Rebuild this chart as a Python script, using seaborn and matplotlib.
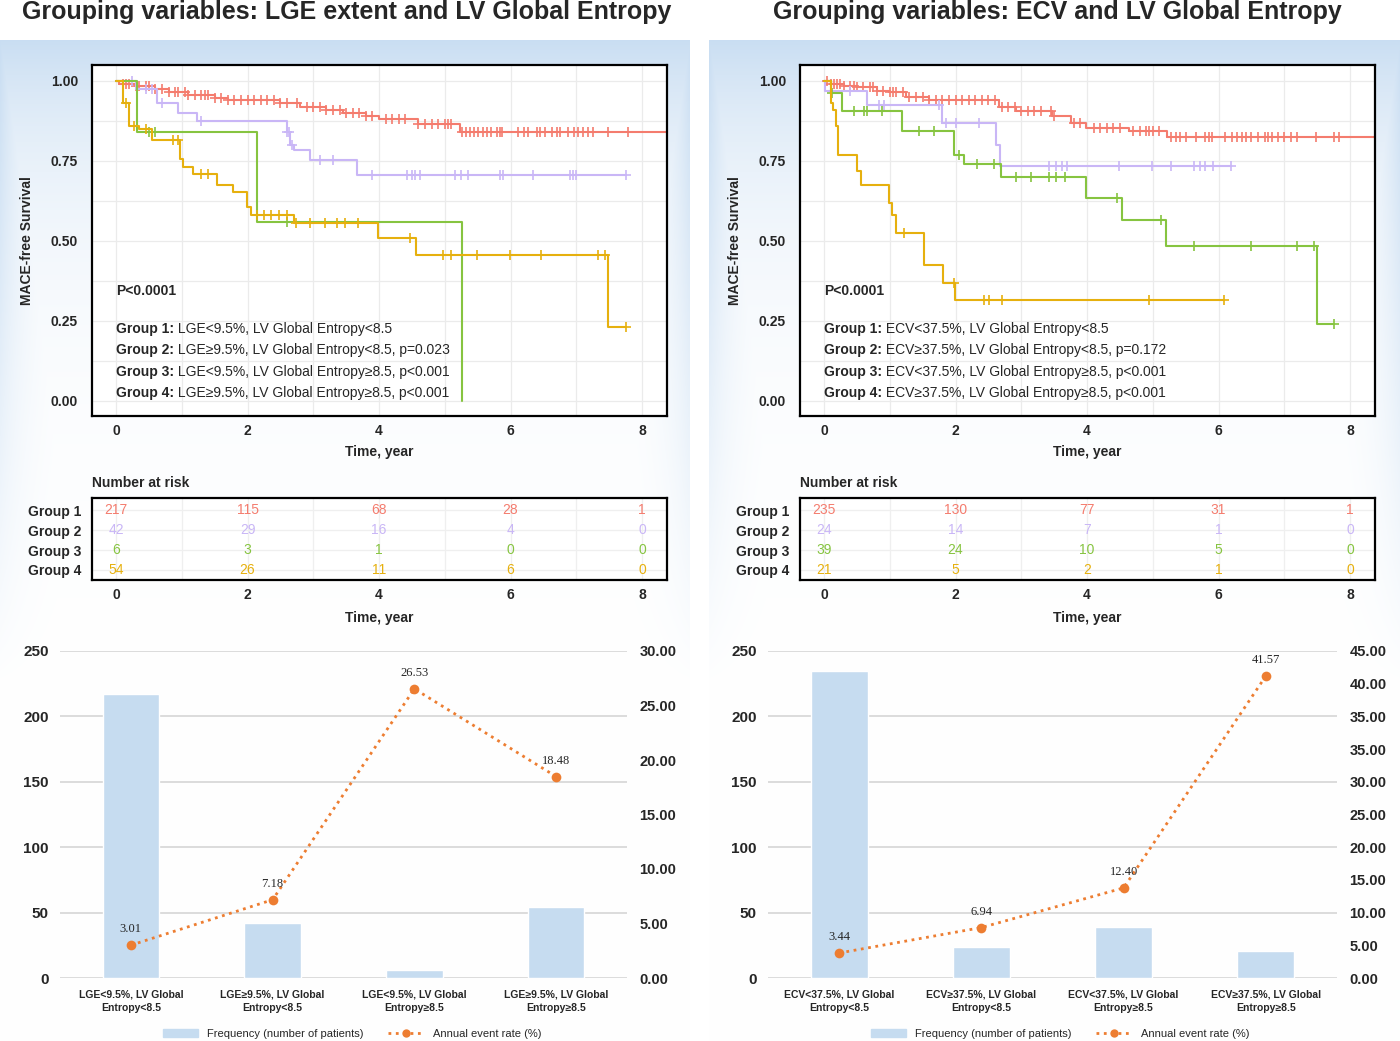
import numpy as np
import matplotlib
matplotlib.use('Agg')
import matplotlib.pyplot as plt
from matplotlib import font_manager
from matplotlib.lines import Line2D
from matplotlib.patches import Patch
import seaborn as sns

# ---------------- data ----------------
# Kaplan-Meier steps (time in years, survival)
lge_g1_t = [0, 0.05, 0.3, 0.6, 0.8, 1.1, 1.5, 1.7, 2.5, 2.8, 3.2, 3.45, 3.8, 4.0, 4.6, 5.23]
lge_g1_s = [1.0, 0.99, 0.985, 0.975, 0.966, 0.956, 0.948, 0.94, 0.93, 0.92, 0.91, 0.90, 0.89, 0.88, 0.865, 0.84]
lge_g1_cens = [0.1, 0.15, 0.2, 0.3, 0.35, 0.45, 0.5, 0.6, 0.7, 0.8, 0.9, 0.95, 1.05, 1.1, 1.2, 1.3,
               1.35, 1.4, 1.5, 1.6, 1.7, 1.8, 1.9, 2.0, 2.1, 2.2, 2.3, 2.4, 2.5, 2.6, 2.75, 2.9, 3.0,
               3.1, 3.2, 3.3, 3.4, 3.5, 3.6, 3.7, 3.8, 3.9, 4.1, 4.2, 4.3, 4.4, 4.6, 4.7, 4.8, 4.9,
               5.0, 5.05, 5.1, 5.26, 5.32, 5.38, 5.45, 5.51, 5.58, 5.64, 5.71, 5.79, 5.84, 5.87,
               6.12, 6.2, 6.27, 6.4, 6.45, 6.53, 6.63, 6.7, 6.75, 6.88, 6.96, 7.03, 7.11, 7.18,
               7.26, 7.49, 7.79]
lge_g1_end = 8.4

lge_g2_t = [0, 0.3, 0.62, 0.95, 1.23, 2.6, 2.65, 2.7, 2.95, 3.66]
lge_g2_s = [1.0, 0.975, 0.93, 0.90, 0.875, 0.84, 0.80, 0.784, 0.753, 0.705]
lge_g2_cens = [0.25, 0.45, 0.55, 0.7, 1.3, 2.6, 2.63, 2.68, 3.1, 3.3, 3.89, 4.42, 4.5, 4.55,
               4.62, 5.16, 5.24, 5.35, 5.84, 5.89, 6.34, 6.9, 6.95, 7.0, 7.75]
lge_g2_end = 7.75

lge_g3_t = [0, 0.32, 2.14, 5.26]
lge_g3_s = [1.0, 0.84, 0.56, 0.0]
lge_g3_cens = [0.5, 0.6, 2.6]
lge_g3_end = 5.26

lge_g4_t = [0, 0.1, 0.2, 0.35, 0.55, 0.97, 1.02, 1.17, 1.53, 1.78, 1.99, 2.05, 2.7, 3.99, 4.56, 7.48]
lge_g4_s = [1.0, 0.93, 0.86, 0.85, 0.815, 0.755, 0.73, 0.71, 0.675, 0.653, 0.606, 0.58, 0.555,
            0.51, 0.456, 0.23]
lge_g4_cens = [0.15, 0.28, 0.45, 0.87, 0.95, 1.3, 1.4, 2.15, 2.25, 2.35, 2.48, 2.6, 2.74, 2.95,
               3.18, 3.36, 3.48, 3.68, 4.47, 4.97, 5.1, 5.49, 5.99, 6.46, 7.33, 7.44, 7.75]
lge_g4_end = 7.75

ecv_g1_t = [0, 0.1, 0.3, 0.5, 0.8, 1.0, 1.25, 1.6, 2.66, 2.92, 3.47, 3.76, 3.98, 4.64, 5.22]
ecv_g1_s = [1.0, 0.99, 0.985, 0.98, 0.97, 0.965, 0.95, 0.94, 0.92, 0.907, 0.89, 0.869, 0.853,
            0.845, 0.826]
ecv_g1_cens = [0.05, 0.1, 0.15, 0.2, 0.25, 0.3, 0.4, 0.45, 0.5, 0.6, 0.7, 0.75, 0.8, 0.9, 1.0,
               1.05, 1.1, 1.2, 1.3, 1.4, 1.5, 1.6, 1.7, 1.8, 1.9, 2.0, 2.1, 2.2, 2.3, 2.4, 2.5,
               2.6, 2.7, 2.8, 2.9, 3.0, 3.1, 3.2, 3.3, 3.45, 3.5, 3.8, 3.9, 4.1, 4.2, 4.3, 4.4,
               4.5, 4.7, 4.8, 4.9, 4.95, 5.0, 5.1, 5.28, 5.35, 5.42, 5.5, 5.66, 5.8, 5.85, 5.9,
               6.1, 6.2, 6.28, 6.35, 6.42, 6.5, 6.6, 6.7, 6.75, 6.82, 6.9, 7.0, 7.1, 7.2, 7.48,
               7.76, 7.83]
ecv_g1_end = 8.4

ecv_g2_t = [0, 0.02, 0.65, 1.8, 2.62, 2.68]
ecv_g2_s = [1.0, 0.97, 0.925, 0.87, 0.80, 0.735]
ecv_g2_cens = [0.4, 0.84, 0.92, 1.75, 1.85, 2.0, 2.35, 3.42, 3.53, 3.62, 3.7, 4.49, 4.99, 5.27,
               5.63, 5.72, 5.8, 5.91, 6.19]
ecv_g2_end = 6.19

ecv_g3_t = [0, 0.1, 0.27, 1.19, 1.98, 2.13, 2.69, 3.98, 4.53, 5.2, 7.5]
ecv_g3_s = [1.0, 0.963, 0.905, 0.845, 0.77, 0.74, 0.70, 0.635, 0.565, 0.485, 0.24]
ecv_g3_cens = [0.12, 0.46, 0.61, 0.65, 0.88, 1.44, 1.67, 2.05, 2.33, 2.59, 2.92, 3.15, 3.42,
               3.53, 3.66, 4.45, 5.12, 5.63, 6.5, 7.19, 7.45, 7.76]
ecv_g3_end = 7.76

ecv_g4_t = [0, 0.1, 0.14, 0.18, 0.22, 0.5, 0.56, 0.99, 1.04, 1.09, 1.52, 1.81, 1.99]
ecv_g4_s = [1.0, 0.93, 0.91, 0.86, 0.77, 0.72, 0.675, 0.62, 0.58, 0.526, 0.426, 0.37, 0.317]
ecv_g4_cens = [1.22, 1.98, 2.43, 2.51, 2.71, 4.94, 6.08]
ecv_g4_end = 6.08

# number at risk at 0, 2, 4, 6, 8 years
risk_times = [0, 2, 4, 6, 8]
lge_risk = [[217, 115, 68, 28, 1], [42, 29, 16, 4, 0], [6, 3, 1, 0, 0], [54, 26, 11, 6, 0]]
ecv_risk = [[235, 130, 77, 31, 1], [24, 14, 7, 1, 0], [39, 24, 10, 5, 0], [21, 5, 2, 1, 0]]

# legend texts
lge_groups = ['LGE<9.5%, LV Global Entropy<8.5',
              'LGE\u22659.5%, LV Global Entropy<8.5, p=0.023',
              'LGE<9.5%, LV Global Entropy\u22658.5, p<0.001',
              'LGE\u22659.5%, LV Global Entropy\u22658.5, p<0.001']
ecv_groups = ['ECV<37.5%, LV Global Entropy<8.5',
              'ECV\u226537.5%, LV Global Entropy<8.5, p=0.172',
              'ECV<37.5%, LV Global Entropy\u22658.5, p<0.001',
              'ECV\u226537.5%, LV Global Entropy\u22658.5, p<0.001']

# bar / line charts
lge_cats = ['LGE<9.5%, LV Global\nEntropy<8.5', 'LGE\u22659.5%, LV Global\nEntropy<8.5',
            'LGE<9.5%, LV Global\nEntropy\u22658.5', 'LGE\u22659.5%, LV Global\nEntropy\u22658.5']
lge_freq = [217, 42, 6, 54]
lge_rate = [3.01, 7.18, 26.53, 18.48]
ecv_cats = ['ECV<37.5%, LV Global\nEntropy<8.5', 'ECV\u226537.5%, LV Global\nEntropy<8.5',
            'ECV<37.5%, LV Global\nEntropy\u22658.5', 'ECV\u226537.5%, LV Global\nEntropy\u22658.5']
ecv_freq = [235, 24, 39, 21]
ecv_rate = [3.44, 6.94, 12.40, 41.57]
lge_rate_ticks = ['0.00', '5.00', '10.00', '15.00', '20.00', '25.00', '30.00']
ecv_rate_ticks = ['0.00', '5.00', '10.00', '15.00', '20.00', '25.00', '30.00', '35.00', '35.00',
                  '40.00', '45.00']

group_colors = ['#F47C6E', '#C9B6F6', '#86C440', '#E6B00E']
bar_color = '#C6DCF0'
line_color = '#ED7D31'

# ---------------- style ----------------
sns.set_theme(style='white')
plt.rcParams['font.family'] = ['Liberation Sans', 'DejaVu Sans']
names = {f.name for f in font_manager.fontManager.ttflist}
narrow = 'Liberation Sans Narrow' if 'Liberation Sans Narrow' in names else 'Liberation Sans'
narrow_family = [narrow, 'DejaVu Sans']

W, H = 1400, 1041
fig = plt.figure(figsize=(W / 100, H / 100), dpi=100)


def px_axes(x0, y0, x1, y1, **kw):
    return fig.add_axes([x0 / W, 1 - y1 / H, (x1 - x0) / W, (y1 - y0) / H], **kw)


# background: pale blue panels fading to white
yy, xx = np.mgrid[0:H, 0:W].astype(float)
bg = np.ones((H, W, 3))
blue = np.array([0.79, 0.87, 0.95])
for x0, x1 in [(0, 690), (709, 1400)]:
    inside = (xx >= x0) & (xx < x1) & (yy >= 40)
    top = np.exp(-(yy - 40) / 140.0)
    side = np.exp(-np.minimum(xx - x0, x1 - xx) / 28.0) * np.clip(1 - (yy - 40) / 650.0, 0, 1)
    w = np.clip(np.maximum(top, side), 0, 1) * inside
    bg = bg * (1 - w[..., None]) + blue * w[..., None]
ax_bg = fig.add_axes([0, 0, 1, 1], zorder=-10)
ax_bg.imshow(bg, aspect='auto', interpolation='bilinear')
ax_bg.axis('off')

fig.text(22 / W, 1 - 12 / H, 'Grouping variables: LGE extent and LV Global Entropy',
         fontsize=18, weight='bold', va='center', ha='left')
fig.text(773 / W, 1 - 12 / H, 'Grouping variables: ECV and LV Global Entropy',
         fontsize=18, weight='bold', va='center', ha='left')


def km_panel(ax, curves, groups):
    for (t, s, cens, end), col in zip(curves, group_colors):
        tt = list(t) + [end]
        ss = list(s) + [s[-1]]
        sns.lineplot(x=tt, y=ss, drawstyle='steps-post', color=col, lw=1.5, ax=ax,
                     sort=False, estimator=None)
        c = np.array(cens)
        cs = np.array(s)[np.searchsorted(t, c, side='right') - 1]
        ax.plot(c, cs, ls='none', marker='+', ms=7, mew=1.2, color=col)
    ax.set_xlim(-0.365, 8.38)
    ax.set_ylim(-0.047, 1.05)
    ax.set_xticks([0, 2, 4, 6, 8])
    ax.set_xticks([1, 3, 5, 7], minor=True)
    ax.set_yticks([0, 0.25, 0.5, 0.75, 1.0])
    ax.set_yticks([0.125, 0.375, 0.625, 0.875], minor=True)
    ax.set_yticklabels(['0.00', '0.25', '0.50', '0.75', '1.00'])
    ax.grid(True, which='both', color='#EBEBEB', lw=0.9)
    ax.tick_params(which='major', length=4, width=1, color='#333333', labelsize=10)
    ax.tick_params(axis='y', pad=6)
    ax.tick_params(axis='x', pad=2)
    ax.tick_params(which='minor', length=0)
    for lab in ax.get_xticklabels() + ax.get_yticklabels():
        lab.set_fontweight('bold')
    for sp in ax.spines.values():
        sp.set_color('black')
        sp.set_linewidth(1.6)
    ax.set_xlabel('Time, year', fontsize=10, weight='bold', labelpad=5)
    ax.set_ylabel('MACE-free Survival', fontsize=10, weight='bold', labelpad=12)
    ax.text(0, 0.344, 'P<0.0001', fontsize=10, weight='bold', va='center')
    for i, (g, yv) in enumerate(zip(groups, [0.225, 0.159, 0.09, 0.025])):
        b = ax.text(0, yv, f'Group {i + 1}:', fontsize=10, weight='bold', va='center')
        ax.annotate(' ' + g, xy=(1, 0.5), xycoords=b, va='center', ha='left', fontsize=10)


def risk_panel(ax, risk):
    ax.set_xlim(-0.365, 8.38)
    ax.set_ylim(4.5, 0.4)
    for row, col in zip(range(4), group_colors):
        for tm, n in zip(risk_times, risk[row]):
            ax.text(tm, row + 1, str(n), color=col, ha='center', va='center', fontsize=10)
    ax.set_xticks([0, 2, 4, 6, 8])
    ax.set_xticks([1, 3, 5, 7], minor=True)
    ax.set_yticks([1, 2, 3, 4])
    ax.set_yticklabels([f'Group {i}' for i in range(1, 5)])
    ax.grid(True, which='both', color='#EFEFEF', lw=0.9)
    ax.tick_params(which='major', length=4, width=1, color='#333333', labelsize=10)
    ax.tick_params(axis='y', pad=4)
    ax.tick_params(axis='x', pad=2)
    ax.tick_params(which='minor', length=0)
    for lab in ax.get_xticklabels() + ax.get_yticklabels():
        lab.set_fontweight('bold')
    for sp in ax.spines.values():
        sp.set_color('black')
        sp.set_linewidth(1.6)
    ax.set_xlabel('Time, year', fontsize=10, weight='bold', labelpad=6)
    ax.text(-0.365, 0.0, 'Number at risk', fontsize=10, weight='bold', va='bottom',
            transform=ax.transData)


def bar_panel(ax, cats, freq, rate, rate_max, rate_labels, legend_x):
    ax.patch.set_visible(False)
    sns.barplot(x=cats, y=freq, color=bar_color, saturation=1, width=0.4, ax=ax, zorder=2)
    ax.set_ylim(0, 250)
    ax.set_xlim(-0.5, 3.5)
    ax.set_yticks(range(0, 251, 50))
    ax.yaxis.grid(True, color='#D9D9D9', lw=1.3, zorder=0)
    ax.set_axisbelow(True)
    sns.despine(ax=ax, left=True, bottom=True)
    ax.tick_params(length=0, pad=8)
    for lab in ax.get_yticklabels():
        lab.set_fontweight('bold')
        lab.set_family(narrow_family)
        lab.set_fontsize(11)
    for lab in ax.get_xticklabels():
        lab.set_fontweight('bold')
        lab.set_family(narrow_family)
        lab.set_fontsize(7.5)
        lab.set_linespacing(1.5)
    ax.set_xlabel('')
    ax.set_ylabel('')

    ax2 = ax.twinx()
    ax2.patch.set_visible(False)
    xs = np.arange(len(rate))
    sns.lineplot(x=xs, y=rate, ax=ax2, color=line_color, lw=2, ls=':', marker='o',
                 markersize=7, markeredgewidth=0, zorder=3)
    for xv, r in zip(xs, rate):
        ax2.annotate(f'{r:.2f}', (xv, r), xytext=(0, 7), textcoords='offset points',
                     ha='center', va='bottom', fontsize=9, family='Liberation Serif')
    ax2.set_ylim(0, rate_max)
    ax2.set_yticks(np.linspace(0, rate_max, len(rate_labels)))
    ax2.set_yticklabels(rate_labels)
    ax2.set_xlim(-0.5, 3.5)
    for sp in ax2.spines.values():
        sp.set_visible(False)
    ax2.tick_params(length=0, pad=9)
    for lab in ax2.get_yticklabels():
        lab.set_fontweight('bold')
        lab.set_family(narrow_family)
        lab.set_fontsize(10.5)
    ax2.grid(False)

    handles = [Patch(color=bar_color, label='Frequency (number of patients)'),
               Line2D([0], [0], color=line_color, lw=2, ls=':', marker='o', ms=6,
                      mew=0, label='Annual event rate (%)')]
    ax.legend(handles=handles, loc='center', bbox_to_anchor=(legend_x / W, 1 - 1034 / H),
              bbox_transform=fig.transFigure, ncol=2, frameon=False, handlelength=3.2,
              columnspacing=2.2, prop={'family': narrow_family, 'size': 8})


lge_curves = [(lge_g1_t, lge_g1_s, lge_g1_cens, lge_g1_end),
              (lge_g2_t, lge_g2_s, lge_g2_cens, lge_g2_end),
              (lge_g3_t, lge_g3_s, lge_g3_cens, lge_g3_end),
              (lge_g4_t, lge_g4_s, lge_g4_cens, lge_g4_end)]
ecv_curves = [(ecv_g1_t, ecv_g1_s, ecv_g1_cens, ecv_g1_end),
              (ecv_g2_t, ecv_g2_s, ecv_g2_cens, ecv_g2_end),
              (ecv_g3_t, ecv_g3_s, ecv_g3_cens, ecv_g3_end),
              (ecv_g4_t, ecv_g4_s, ecv_g4_cens, ecv_g4_end)]

ax_km1 = px_axes(92, 65, 667, 416)
km_panel(ax_km1, lge_curves, lge_groups)
ax_km2 = px_axes(800, 65, 1375, 416)
km_panel(ax_km2, ecv_curves, ecv_groups)

ax_r1 = px_axes(92, 498, 667, 580)
risk_panel(ax_r1, lge_risk)
ax_r2 = px_axes(800, 498, 1375, 580)
risk_panel(ax_r2, ecv_risk)

ax_b1 = px_axes(60, 651, 627, 978)
bar_panel(ax_b1, lge_cats, lge_freq, lge_rate, 30, lge_rate_ticks, 352)
ax_b2 = px_axes(768, 651, 1337, 978)
bar_panel(ax_b2, ecv_cats, ecv_freq, ecv_rate, 45, ecv_rate_ticks, 1060)

fig.savefig('out.png', dpi=100)
